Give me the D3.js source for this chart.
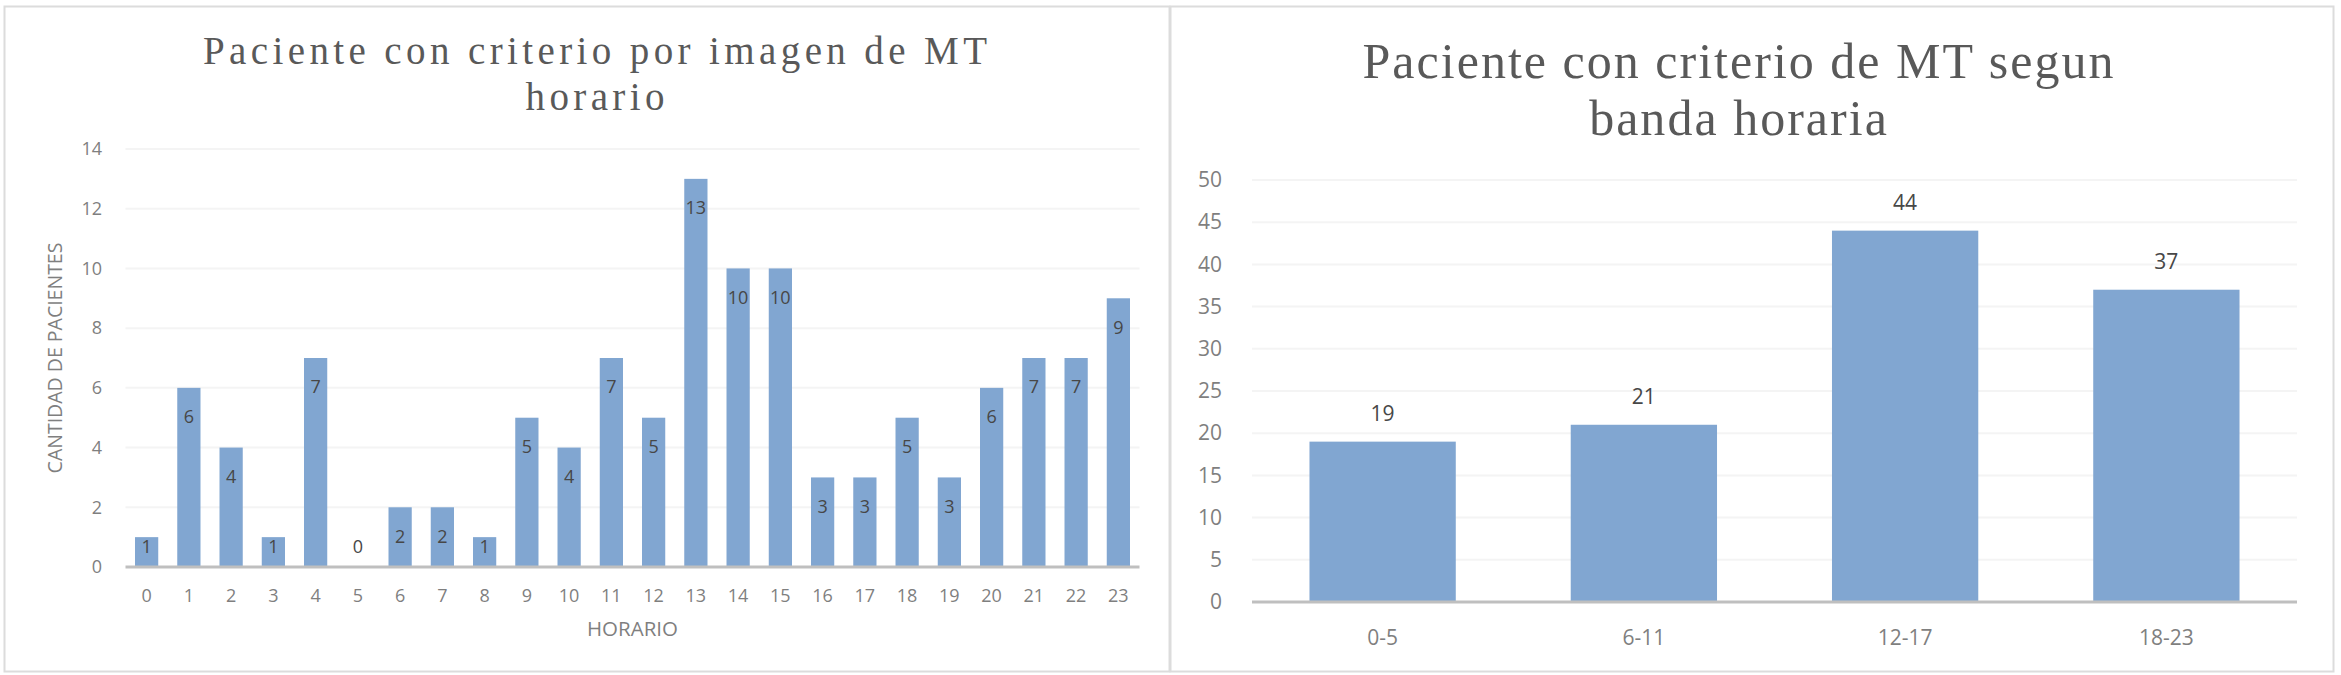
<!DOCTYPE html>
<html>
<head>
<meta charset="utf-8">
<script src="https://cdn.jsdelivr.net/npm/d3@7"></script>
<style>
  html, body { margin: 0; padding: 0; background: #ffffff; }
  svg { display: block; }
</style>
</head>
<body>
<svg id="chart" width="2341" height="675"></svg>
<script>
// ---------- data ----------
const hourCategories = ["0","1","2","3","4","5","6","7","8","9","10","11","12","13","14","15","16","17","18","19","20","21","22","23"];
const hourValues = [1,6,4,1,7,0,2,2,1,5,4,7,5,13,10,10,3,3,5,3,6,7,7,9];
const hourTicks = [0,2,4,6,8,10,12,14];

const bandCategories = ["0-5","6-11","12-17","18-23"];
const bandValues = [19,21,44,37];
const bandTicks = [0,5,10,15,20,25,30,35,40,45,50];

const leftTitleLines = ["Paciente con criterio por imagen de MT", "horario"];
const rightTitleLines = ["Paciente con criterio de MT segun", "banda horaria"];
const leftYTitle = "CANTIDAD DE PACIENTES";
const leftXTitle = "HORARIO";

// ---------- style ----------
const barColor = "#81a6d1";
const gridColor = "#f4f4f4";
const baseColor = "#bfbfbf";
const tickColor = "#7f7f7f";
const labelColor = "#474747";
const titleColor = "#595959";
const sansFont = "'Open Sans', 'Noto Sans', sans-serif";
const serifFont = "'Liberation Serif', 'DejaVu Serif', serif";

const svg = d3.select("#chart");

// panel borders
svg.append("rect").attr("x", 4.5).attr("y", 6.5).attr("width", 1165).attr("height", 665)
  .attr("fill", "none").attr("stroke", "#dcdcdc").attr("stroke-width", 2);
svg.append("rect").attr("x", 1170.5).attr("y", 6.5).attr("width", 1163).attr("height", 665)
  .attr("fill", "none").attr("stroke", "#dcdcdc").attr("stroke-width", 2);

function title(lines, cx, baselines, size, targetWidth) {
  const g = svg.append("g");
  const texts = lines.map((t, i) => g.append("text")
    .attr("x", cx).attr("y", baselines[i])
    .attr("text-anchor", "middle")
    .attr("font-family", serifFont)
    .attr("font-size", size)
    .attr("fill", titleColor)
    .text(t));
  const natural = texts[0].node().getComputedTextLength();
  const ls = (targetWidth - natural) / (lines[0].length - 1);
  texts.forEach(t => t.attr("letter-spacing", ls + "px").attr("x", cx + ls / 2));
}

// ---------- left chart ----------
(function () {
  const x0 = 125.5, x1 = 1139.5, yTop = 149, yBot = 567;
  const x = d3.scaleBand().domain(hourCategories).range([x0, x1]).paddingInner(0.45).paddingOuter(0.225);
  const y = d3.scaleLinear().domain([0, 14]).range([yBot, yTop]);

  title(leftTitleLines, 595, [64, 110], 39, 784);

  const g = svg.append("g");
  g.selectAll(".grid").data(hourTicks.filter(d => d > 0)).enter().append("line")
    .attr("x1", x0).attr("x2", x1)
    .attr("y1", d => y(d)).attr("y2", d => y(d))
    .attr("stroke", gridColor).attr("stroke-width", 2);

  const yAxis = d3.axisLeft(y).tickValues(hourTicks).tickSize(0).tickPadding(0);
  const ya = g.append("g").attr("transform", `translate(102,0)`).call(yAxis);
  ya.select(".domain").remove();
  ya.selectAll("text").attr("font-family", sansFont).attr("font-size", 18).attr("fill", tickColor);

  g.selectAll(".bar").data(hourValues).enter().append("rect")
    .attr("x", (d, i) => x(hourCategories[i]))
    .attr("width", x.bandwidth())
    .attr("y", d => y(d))
    .attr("height", d => yBot - y(d))
    .attr("fill", barColor);

  g.append("line").attr("x1", x0).attr("x2", x1).attr("y1", yBot).attr("y2", yBot)
    .attr("stroke", baseColor).attr("stroke-width", 3);

  const xAxis = d3.axisBottom(x).tickSize(0).tickPadding(0);
  const xa = g.append("g").attr("transform", `translate(0,${yBot + 22})`).call(xAxis);
  xa.select(".domain").remove();
  xa.selectAll("text").attr("font-family", sansFont).attr("font-size", 18).attr("fill", tickColor);

  g.selectAll(".val").data(hourValues).enter().append("text")
    .attr("x", (d, i) => x(hourCategories[i]) + x.bandwidth() / 2)
    .attr("y", d => Math.min(y(d) + 29, yBot - 20))
    .attr("dy", "0.35em")
    .attr("text-anchor", "middle")
    .attr("font-family", sansFont).attr("font-size", 18)
    .attr("fill", labelColor)
    .text(d => d);

  g.append("text").attr("transform", `translate(62,${(yTop + yBot) / 2}) rotate(-90)`)
    .attr("text-anchor", "middle")
    .attr("font-family", sansFont).attr("font-size", 19.5).attr("fill", tickColor)
    .text(leftYTitle);
  g.append("text").attr("x", (x0 + x1) / 2).attr("y", 636)
    .attr("text-anchor", "middle")
    .attr("font-family", sansFont).attr("font-size", 20.5).attr("fill", tickColor)
    .text(leftXTitle);
})();

// ---------- right chart ----------
(function () {
  const x0 = 1252, x1 = 2297, yTop = 180, yBot = 602;
  const x = d3.scaleBand().domain(bandCategories).range([x0, x1]).paddingInner(0.44).paddingOuter(0.22);
  const y = d3.scaleLinear().domain([0, 50]).range([yBot, yTop]);

  title(rightTitleLines, 1738, [78, 135], 50, 751);

  const g = svg.append("g");
  g.selectAll(".grid").data(bandTicks.filter(d => d > 0)).enter().append("line")
    .attr("x1", x0).attr("x2", x1)
    .attr("y1", d => y(d)).attr("y2", d => y(d))
    .attr("stroke", gridColor).attr("stroke-width", 2);

  const yAxis = d3.axisLeft(y).tickValues(bandTicks).tickSize(0).tickPadding(0);
  const ya = g.append("g").attr("transform", `translate(1222,0)`).call(yAxis);
  ya.select(".domain").remove();
  ya.selectAll("text").attr("font-family", sansFont).attr("font-size", 21).attr("fill", tickColor);

  g.selectAll(".bar").data(bandValues).enter().append("rect")
    .attr("x", (d, i) => x(bandCategories[i]))
    .attr("width", x.bandwidth())
    .attr("y", d => y(d))
    .attr("height", d => yBot - y(d))
    .attr("fill", barColor);

  g.append("line").attr("x1", x0).attr("x2", x1).attr("y1", yBot).attr("y2", yBot)
    .attr("stroke", baseColor).attr("stroke-width", 3);

  const xAxis = d3.axisBottom(x).tickSize(0).tickPadding(0);
  const xa = g.append("g").attr("transform", `translate(0,${yBot + 28})`).call(xAxis);
  xa.select(".domain").remove();
  xa.selectAll("text").attr("font-family", sansFont).attr("font-size", 21).attr("fill", tickColor);

  g.selectAll(".val").data(bandValues).enter().append("text")
    .attr("x", (d, i) => x(bandCategories[i]) + x.bandwidth() / 2)
    .attr("y", d => y(d) - 28)
    .attr("dy", "0.35em")
    .attr("text-anchor", "middle")
    .attr("font-family", sansFont).attr("font-size", 21)
    .attr("fill", labelColor)
    .text(d => d);
})();
</script>
</body>
</html>
